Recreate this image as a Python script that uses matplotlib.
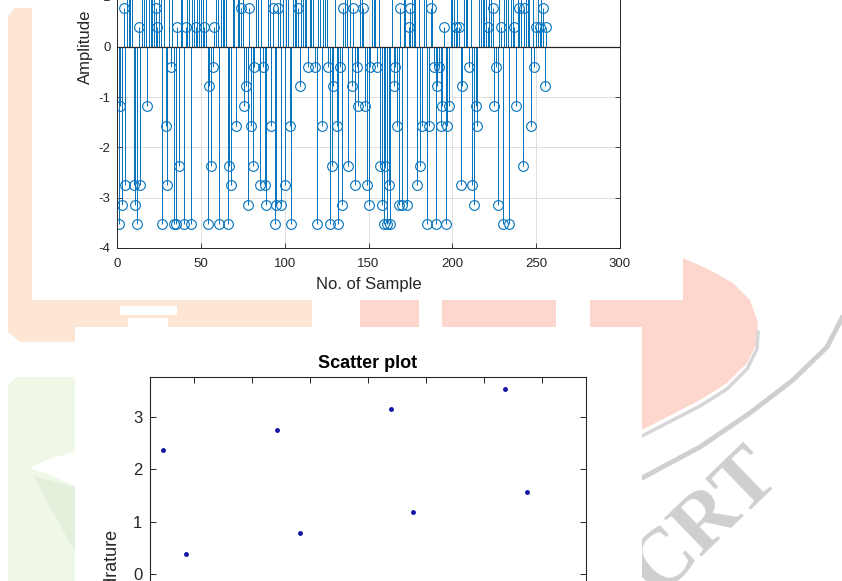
import numpy as np
import matplotlib
matplotlib.use("Agg")
import matplotlib.pyplot as plt
from matplotlib.patches import Polygon, Rectangle

plt.rcParams['font.family'] = ['Liberation Sans', 'DejaVu Sans']
plt.rcParams['axes.unicode_minus'] = False

# stem plot: value of each of the 256 samples (values above ~1.2 are cut off in the picture)
amplitude = [
    -3.53, -1.18, -3.14, 0.78, -2.75, 2.36, 1.57, 3.53, 1.18, -2.75, -3.14, -3.53, 0.39, -2.75, 2.75, 3.14,
    1.57, -1.18, 3.53, 2.36, 1.18, 2.75, 0.78, 0.39, 3.14, 1.57, -3.53, 2.36, -1.57, -2.75, 3.53, -0.39,
    1.18, -3.53, -3.53, 0.39, -2.36, 2.75, 3.14, -3.53, 0.39, 1.57, 2.36, -3.53, 3.53, 1.18, 0.39, 2.75,
    3.14, 1.57, 2.36, 0.39, 3.53, -3.53, -0.78, -2.36, -0.39, 0.39, 1.18, 2.75, -3.53, 3.14, 1.57, 2.36,
    3.53, -3.53, -2.36, -2.75, 1.18, 2.75, -1.57, 3.14, 1.57, 0.78, 2.36, -1.18, -0.78, -3.14, 0.78, -1.57,
    -2.36, -0.39, 3.53, 1.18, -2.75, 2.75, -0.39, -2.75, -3.14, 3.14, 1.57, -1.57, 0.78, -3.53, -3.14, 0.78,
    2.36, -3.14, 3.53, -2.75, 1.18, 2.75, -1.57, -3.53, 3.14, 1.57, 2.36, 0.78, -0.78, 3.53, 1.18, 2.75,
    3.14, -0.39, 1.57, 2.36, 3.53, -0.39, -3.53, 1.18, 2.75, -1.57, 3.14, 1.57, 2.36, -0.39, -3.53, -2.36,
    -0.78, 3.53, -1.57, -3.53, -0.39, -3.14, 0.78, 1.18, 2.75, -2.36, 3.14, -0.78, 0.78, -2.75, -0.39, -1.18,
    1.57, 2.36, 0.78, -1.18, -2.75, -3.14, -0.39, 3.53, 1.18, 2.75, -0.39, 3.14, -2.36, -3.14, -3.53, -2.36,
    -3.53, -2.75, -3.53, 1.57, -0.78, -0.39, -1.57, -3.14, 0.78, -3.14, 2.36, 3.53, -3.14, 0.39, 0.78, 1.18,
    2.75, 3.14, -2.75, 1.57, -2.36, -1.57, 2.36, 3.53, -3.53, -1.57, 0.78, 1.18, -0.39, -3.53, -0.78, -0.39,
    -1.57, -1.18, 0.39, -3.53, -1.57, -1.18, 2.75, 3.14, 1.57, 0.39, 2.36, 0.39, -2.75, -0.78, 3.53, 1.18,
    2.75, -0.39, 3.14, -2.75, -3.14, -1.18, -1.57, 1.57, 2.36, 3.53, 1.18, 2.75, 0.39, 3.14, 1.57, 0.78,
    -1.18, -0.39, -3.14, 2.36, 0.39, -3.53, 3.53, 1.18, 2.75, -3.53, 3.14, 1.57, 0.39, -1.18, 2.36, 0.78,
    3.53, -2.36, 0.78, 1.18, 2.75, 3.14, -1.57, 1.57, -0.39, 0.39, 2.36, 0.39, 3.53, 0.78, -0.78, 0.39,
]
sample_no = np.arange(1, len(amplitude) + 1)

# scatter plot points
in_phase = [-3.53, -3.14, -1.57, -1.18, 0.39, 0.78, 2.36, 2.75]
quadrature = [2.36, 0.39, 2.75, 0.78, 3.14, 1.18, 3.53, 1.57]

W, H = 842, 581
fig = plt.figure(figsize=(W / 100, H / 100), dpi=100)

# page background with the watermark (pixel coords)
bg = fig.add_axes([0, 0, 1, 1], zorder=-10)
bg.set_xlim(0, W)
bg.set_ylim(H, 0)
bg.axis('off')
peach = '#fde6d3'
salmon = '#fdd7ce'
green = '#eff8e7'
grey = '#cfcfcf'

bg.add_patch(Polygon([(8, 16), (15, 8), (32, 8), (32, 300), (312, 300), (312, 327), (75, 327),
                      (75, 342), (20, 342), (8, 332)], fc=peach, ec='none', zorder=1))
bg.add_patch(Rectangle((120, 306), 57, 9, fc='white', ec='none', zorder=1.5))
bg.add_patch(Rectangle((128, 318), 40, 9, fc='white', ec='none', zorder=1.5))
bg.add_patch(Rectangle((360, 300), 59, 27, fc=salmon, ec='none', zorder=1))
bg.add_patch(Rectangle((442, 300), 114, 27, fc=salmon, ec='none', zorder=1))
bg.add_patch(Polygon([(590, 300), (683, 300), (683, 258), (710, 270), (733, 283), (750, 300),
                      (758, 323), (757, 343), (747, 363), (727, 383), (700, 400), (667, 417),
                      (642, 430), (642, 327), (590, 327)], fc=salmon, ec='none', zorder=1))
bg.plot([758, 757, 747, 727, 700, 667, 642], [332, 349, 369, 389, 406, 423, 436],
        color='#d6d6d6', lw=2.5, zorder=1.2)
bg.plot([642, 700, 750, 793, 827, 842], [478, 447, 413, 380, 347, 318],
        color=grey, lw=3.5, zorder=1.2)
bg.text(706, 522, 'CRT', rotation=44, fontsize=60, family='Liberation Serif', weight='bold',
        color=grey, ha='center', va='center', zorder=1.1)
bg.add_patch(Polygon([(8, 385), (16, 377), (75, 377), (75, 581), (8, 581)], fc=green, ec='none', zorder=1))
bg.add_patch(Polygon([(33, 476), (75, 487), (75, 552)], fc='#e5f0dc', ec='none', zorder=1.3))
bg.add_patch(Polygon([(75, 452), (48, 459), (30, 468), (48, 474), (75, 486)], fc='white', ec='none', zorder=1.4))
# white areas of the two chart images
bg.add_patch(Rectangle((32, 0), 651, 300, fc='white', ec='none', zorder=2))
bg.add_patch(Rectangle((75, 327), 567, 254, fc='white', ec='none', zorder=2))

blue = '#0072bd'
axc = '#262626'

# top: stem plot
ax1 = fig.add_axes([117 / W, (H - 248) / H, 503 / W, 402 / H])
ax1.set_axisbelow(True)
ax1.grid(True, color='#dedede', lw=0.7)
markerline, stemlines, baseline = ax1.stem(sample_no, amplitude, basefmt=' ')
plt.setp(stemlines, color=blue, linewidth=0.7)
plt.setp(markerline, color=blue, markerfacecolor='none', markersize=7, markeredgewidth=0.8)
ax1.axhline(0, color=axc, lw=0.9, zorder=3)
ax1.set_xlim(0, 300)
ax1.set_ylim(-4, 4)
ax1.set_xticks(range(0, 301, 50))
ax1.set_yticks(range(-4, 5))
ax1.tick_params(direction='in', top=True, right=True, length=3.5, width=0.6, labelsize=9.5,
                colors=axc)
ax1.tick_params(axis='x', pad=7)
ax1.tick_params(axis='y', pad=4.5)
for s in ax1.spines.values():
    s.set_color(axc)
    s.set_linewidth(0.7)
ax1.set_xlabel('No. of Sample', fontsize=12, color=axc, labelpad=5)
ax1.set_ylabel('Amplitude', fontsize=12, color=axc, labelpad=4)

# bottom: scatter plot
ax2 = fig.add_axes([150 / W, (H - 771.5) / H, 436 / W, 394.8 / H])
ax2.plot(in_phase, quadrature, '.', color='#1515a5', markersize=5)
ax2.set_xlim(-3.76, 3.76)
ax2.set_ylim(-3.76, 3.76)
ax2.set_xticks(range(-3, 4))
ax2.set_yticks(range(-3, 4))
ax2.tick_params(direction='in', top=True, right=True, length=4, width=0.7, labelsize=12,
                colors=axc, pad=5.5)
for s in ax2.spines.values():
    s.set_color(axc)
    s.set_linewidth(0.8)
ax2.set_title('Scatter plot', fontsize=13, weight='bold', color='black', pad=6.5)
ax2.set_ylabel('Quadrature', fontsize=13, color=axc, labelpad=5)
ax2.set_xlabel('In-Phase', fontsize=13, color=axc)

fig.savefig('out.png', dpi=100)
